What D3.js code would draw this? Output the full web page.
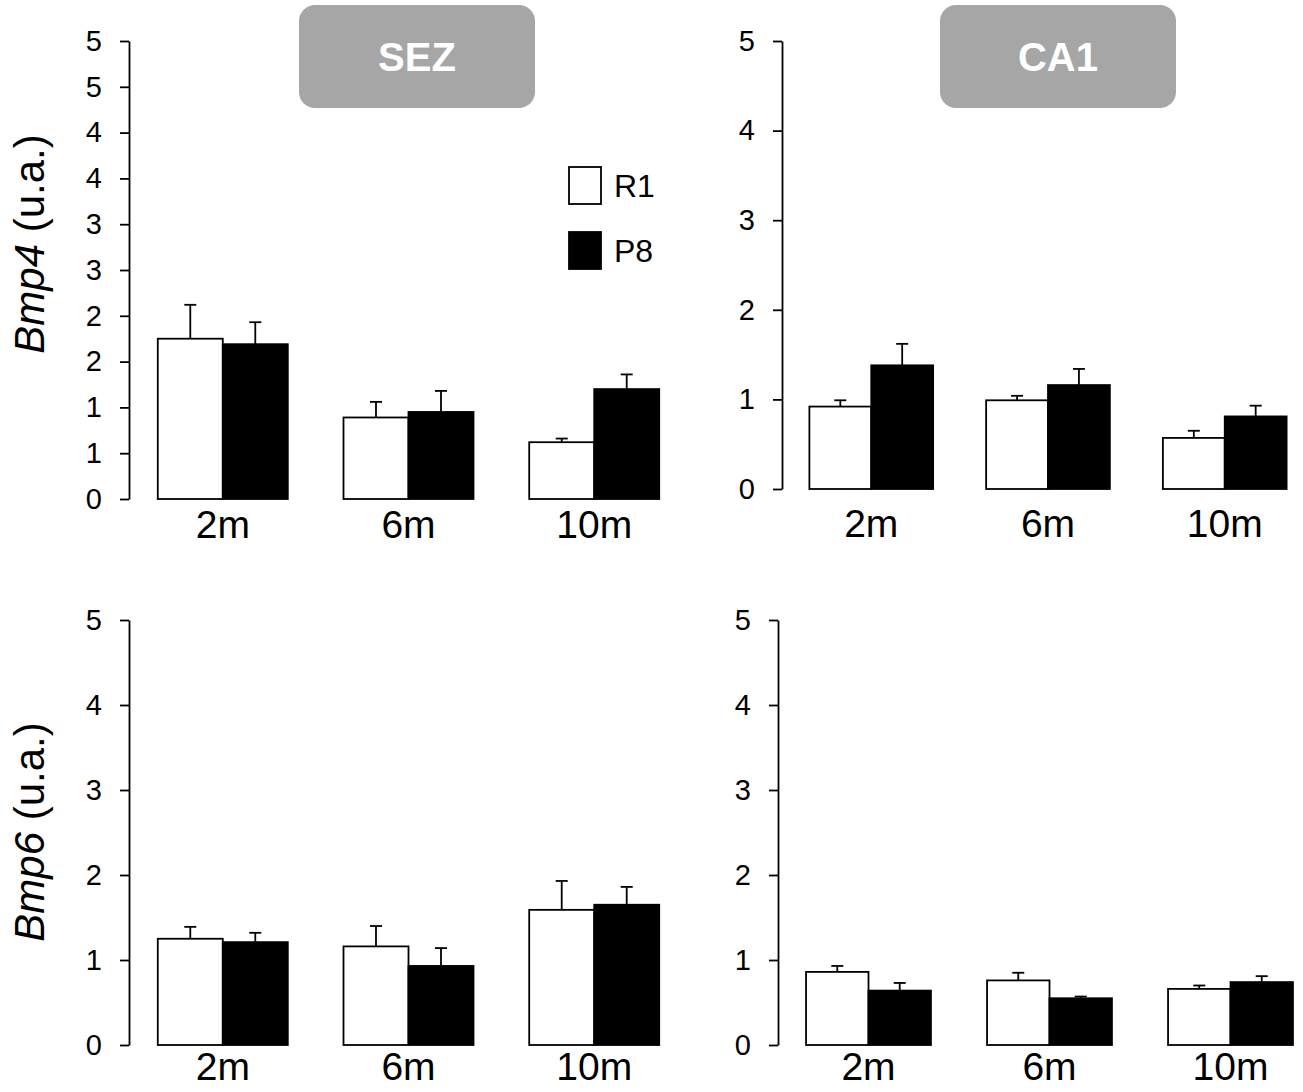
<!DOCTYPE html>
<html lang="en">
<head>
	<meta charset="utf-8">
	<title> Bmp4 / Bmp6 bars </title>
	<script src="https://d3js.org/d3.v7.min.js"></script>
	<style type="text/css">
		body{ margin: 0; background: #fff; }
		svg{ display: block; background-color: #fff; }
		text{ font-family: "Liberation Sans", Arial, sans-serif; }
	</style>
</head>

<body>
	<svg id="chart" width="1303" height="1092"></svg>

	<script type="text/javascript">

	// categories
	var months = ["2m", "6m", "10m"]
	var groups = ["R1", "P8"]

	// Bmp4 - SEZ (mean, SEM)
	var bmp4SezR1 = [1.75, 0.89, 0.62]
	var bmp4SezR1Err = [0.37, 0.17, 0.04]
	var bmp4SezP8 = [1.69, 0.95, 1.20]
	var bmp4SezP8Err = [0.24, 0.23, 0.16]

	// Bmp4 - CA1
	var bmp4Ca1R1 = [0.92, 0.99, 0.57]
	var bmp4Ca1R1Err = [0.07, 0.05, 0.08]
	var bmp4Ca1P8 = [1.38, 1.16, 0.81]
	var bmp4Ca1P8Err = [0.24, 0.18, 0.12]

	// Bmp6 - SEZ
	var bmp6SezR1 = [1.25, 1.16, 1.59]
	var bmp6SezR1Err = [0.14, 0.24, 0.34]
	var bmp6SezP8 = [1.21, 0.93, 1.65]
	var bmp6SezP8Err = [0.11, 0.21, 0.21]

	// Bmp6 - CA1
	var bmp6Ca1R1 = [0.86, 0.76, 0.66]
	var bmp6Ca1R1Err = [0.07, 0.09, 0.04]
	var bmp6Ca1P8 = [0.64, 0.55, 0.74]
	var bmp6Ca1P8Err = [0.09, 0.02, 0.07]

	// tick values / labels (the SEZ Bmp4 axis is in half steps, labels rounded)
	var halfTicks = [0, 0.5, 1, 1.5, 2, 2.5, 3, 3.5, 4, 4.5, 5]
	var halfTickLabels = ["0", "1", "1", "2", "2", "3", "3", "4", "4", "5", "5"]
	var intTicks = [0, 1, 2, 3, 4, 5]
	var intTickLabels = ["0", "1", "2", "3", "4", "5"]

	var regions = ["SEZ", "CA1"]

	var svg = d3.select("#chart")

	function toRows(r1, r1Err, p8, p8Err){
		return months.map((m, i) => ({
			month: m,
			vals: [
				{group: "R1", v: r1[i], e: r1Err[i]},
				{group: "P8", v: p8[i], e: p8Err[i]}
			]
		}))
	}

	function drawPanel(p){
		var rows = toRows(p.r1, p.r1Err, p.p8, p.p8Err)

		var y = d3.scaleLinear().domain([0, 5]).range([p.y0, p.y1])
		var x = d3.scaleBand().domain(months).range([p.xa, p.xb])
					.paddingInner(p.pin).paddingOuter(0.155)
		var xs = d3.scaleBand().domain(groups).range([0, x.bandwidth()])

		var g = svg.append("g")

		// y axis
		var yAxis = d3.axisLeft(y)
					.tickValues(p.ticks)
					.tickFormat((d, i) => p.tickLabels[i])
					.tickSize(9)
					.tickSizeOuter(0)
					.tickPadding(18)

		var ax = g.append("g")
			.attr("transform", "translate(" + p.xa + ",0)")
			.call(yAxis)
		ax.select(".domain").attr("stroke", "#000").attr("stroke-width", 1.8)
		ax.selectAll(".tick line").attr("stroke", "#000").attr("stroke-width", 1.8)
		ax.selectAll(".tick text")
			.attr("fill", "#000")
			.style("font-size", "29px")
			.style("font-family", "'Liberation Sans', Arial, sans-serif")

		// bars
		var grp = g.selectAll(".grp")
			.data(rows)
			.join("g")
			.attr("class", "grp")
			.attr("transform", d => "translate(" + x(d.month) + ",0)")

		grp.selectAll("rect")
			.data(d => d.vals)
			.join("rect")
			.attr("x", d => xs(d.group))
			.attr("y", d => y(d.v))
			.attr("width", xs.bandwidth())
			.attr("height", d => y(0) - y(d.v))
			.attr("fill", d => d.group === "R1" ? "#fff" : "#000")
			.attr("stroke", "#000")
			.attr("stroke-width", 1.8)

		// error bars (upper only)
		grp.selectAll(".err")
			.data(d => d.vals)
			.join("line")
			.attr("class", "err")
			.attr("x1", d => xs(d.group) + xs.bandwidth() / 2)
			.attr("x2", d => xs(d.group) + xs.bandwidth() / 2)
			.attr("y1", d => y(d.v))
			.attr("y2", d => y(d.v + d.e))
			.attr("stroke", "#000")
			.attr("stroke-width", 1.8)

		grp.selectAll(".cap")
			.data(d => d.vals)
			.join("line")
			.attr("class", "cap")
			.attr("x1", d => xs(d.group) + xs.bandwidth() / 2 - 6)
			.attr("x2", d => xs(d.group) + xs.bandwidth() / 2 + 6)
			.attr("y1", d => y(d.v + d.e))
			.attr("y2", d => y(d.v + d.e))
			.attr("stroke", "#000")
			.attr("stroke-width", 1.8)

		// month labels
		g.selectAll(".mlab")
			.data(months)
			.join("text")
			.attr("class", "mlab")
			.attr("x", d => x(d) + x.bandwidth() / 2)
			.attr("y", p.labY)
			.attr("text-anchor", "middle")
			.attr("font-size", 39)
			.attr("fill", "#000")
			.text(d => d)
	}

	// Bmp4 row
	drawPanel({r1: bmp4SezR1, r1Err: bmp4SezR1Err, p8: bmp4SezP8, p8Err: bmp4SezP8Err,
		xa: 129, xb: 688, pin: 0.3, y0: 499, y1: 41, labY: 538,
		ticks: halfTicks, tickLabels: halfTickLabels})
	drawPanel({r1: bmp4Ca1R1, r1Err: bmp4Ca1R1Err, p8: bmp4Ca1P8, p8Err: bmp4Ca1P8Err,
		xa: 782, xb: 1314, pin: 0.3, y0: 489, y1: 41, labY: 537,
		ticks: intTicks, tickLabels: intTickLabels})

	// Bmp6 row
	drawPanel({r1: bmp6SezR1, r1Err: bmp6SezR1Err, p8: bmp6SezP8, p8Err: bmp6SezP8Err,
		xa: 129, xb: 688, pin: 0.3, y0: 1045, y1: 620, labY: 1080,
		ticks: intTicks, tickLabels: intTickLabels})
	drawPanel({r1: bmp6Ca1R1, r1Err: bmp6Ca1R1Err, p8: bmp6Ca1P8, p8Err: bmp6Ca1P8Err,
		xa: 778, xb: 1321, pin: 0.31, y0: 1045, y1: 620, labY: 1080,
		ticks: intTicks, tickLabels: intTickLabels})

	// region header boxes
	var boxX = [299, 940]
	var header = svg.selectAll(".hdr")
		.data(regions)
		.join("g")
		.attr("class", "hdr")
		.attr("transform", (d, i) => "translate(" + boxX[i] + ",5)")

	header.append("rect")
		.attr("width", 236)
		.attr("height", 103)
		.attr("rx", 16)
		.attr("fill", "#a6a6a6")

	header.append("text")
		.attr("x", 118)
		.attr("y", 66)
		.attr("text-anchor", "middle")
		.attr("fill", "#fff")
		.attr("font-weight", "bold")
		.attr("font-size", 40)
		.text(d => d)

	// legend
	var legend = svg.selectAll(".leg")
		.data(groups)
		.join("g")
		.attr("class", "leg")
		.attr("transform", (d, i) => "translate(569," + (167 + i * 65) + ")")

	legend.append("rect")
		.attr("width", 32)
		.attr("height", 37)
		.attr("fill", d => d === "R1" ? "#fff" : "#000")
		.attr("stroke", "#000")
		.attr("stroke-width", 1.8)

	legend.append("text")
		.attr("x", 45)
		.attr("y", 30)
		.attr("font-size", 32)
		.attr("fill", "#000")
		.text(d => d)

	// y titles
	var yTitles = [{gene: "Bmp4", cy: 244}, {gene: "Bmp6", cy: 832}]
	var yt = svg.selectAll(".ytitle")
		.data(yTitles)
		.join("text")
		.attr("class", "ytitle")
		.attr("transform", d => "translate(44," + d.cy + ") rotate(-90)")
		.attr("text-anchor", "middle")
		.attr("font-size", 42)
		.attr("fill", "#000")

	yt.append("tspan").attr("font-style", "italic").text(d => d.gene)
	yt.append("tspan").text(" (u.a.)")

	</script>
</body>
</html>
